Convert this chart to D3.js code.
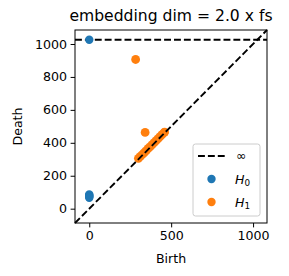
<!DOCTYPE html>
<html>
<head>
<meta charset="utf-8">
<script src="https://cdn.jsdelivr.net/npm/d3@7"></script>
<style>
  body { margin: 0; background: #fff; }
  text { font-family: "DejaVu Sans", sans-serif; }
</style>
</head>
<body>
<script>
// chart values
var title = "embedding dim = 2.0 x fs";
var infDeath = 1026;
var h0Births = [0, 0, 0, 0, 0, 0];
var h0Deaths = [1026, 86, 81, 76, 71, 66];
var h1Births = [283, 341, 300, 312, 324, 336, 348, 360, 372, 384, 396, 408, 420, 432, 444, 456, 460];
var h1Deaths = [906, 463, 306, 318, 329, 341, 353, 366, 377, 389, 401, 413, 425, 437, 449, 461, 465];
var xTicks = [0, 500, 1000];
var yTicks = [0, 200, 400, 600, 800, 1000];
var lo = -87, hi = 1085;

var w = 289, h = 276;
var padL = 75, padR = 267, padT = 30, padB = 223;
var dash = "6.9,3";

var svg = d3.select("body").append("svg").attr("width", w).attr("height", h);

var x = d3.scaleLinear().domain([lo, hi]).range([padL, padR]);
var y = d3.scaleLinear().domain([lo, hi]).range([padB, padT]);

// infinity line
svg.append("line")
  .attr("x1", x(lo)).attr("y1", y(infDeath)).attr("x2", x(hi)).attr("y2", y(infDeath))
  .attr("stroke", "black").attr("stroke-width", 1.9).attr("stroke-dasharray", dash);

var h0 = h0Births.map(function(b, i){ return [b, h0Deaths[i]]; });
var h1 = h1Births.map(function(b, i){ return [b, h1Deaths[i]]; });

svg.selectAll("circle.h0").data(h0).enter().append("circle")
  .attr("class", "h0")
  .attr("cx", function(d){ return x(d[0]); })
  .attr("cy", function(d){ return y(d[1]); })
  .attr("r", 4.2).attr("fill", "#1f77b4");
svg.selectAll("circle.h1").data(h1).enter().append("circle")
  .attr("class", "h1")
  .attr("cx", function(d){ return x(d[0]); })
  .attr("cy", function(d){ return y(d[1]); })
  .attr("r", 4.4).attr("fill", "#ff7f0e");

// diagonal on top of points
svg.append("line")
  .attr("x1", x(lo)).attr("y1", y(lo)).attr("x2", x(hi)).attr("y2", y(hi))
  .attr("stroke", "black").attr("stroke-width", 1.9).attr("stroke-dasharray", dash);

// axes
var xAxis = svg.append("g").attr("transform", "translate(0," + padB + ")")
  .call(d3.axisBottom(x).tickValues(xTicks).tickFormat(d3.format("d")).tickSize(4.4).tickPadding(3.5));
var yAxis = svg.append("g").attr("transform", "translate(" + padL + ",0)")
  .call(d3.axisLeft(y).tickValues(yTicks).tickFormat(d3.format("d")).tickSize(4.4).tickPadding(3.5));
[xAxis, yAxis].forEach(function(g){
  g.select(".domain").remove();
  g.selectAll("text").attr("font-size", 12.6).attr("fill", "black").attr("font-family", "DejaVu Sans");
  g.selectAll("line").attr("stroke", "black").attr("stroke-width", 1);
});

svg.append("rect")
  .attr("x", padL).attr("y", padT).attr("width", padR - padL).attr("height", padB - padT)
  .attr("fill", "none").attr("stroke", "black").attr("stroke-width", 1);

// labels
svg.append("text").attr("x", (padL + padR) / 2).attr("y", 21)
  .attr("text-anchor", "middle").attr("font-size", 15.6).text(title);
svg.append("text").attr("x", (padL + padR) / 2).attr("y", 263)
  .attr("text-anchor", "middle").attr("font-size", 12.6).text("Birth");
svg.append("text").attr("transform", "translate(21.5," + ((padT + padB) / 2) + ") rotate(-90)")
  .attr("text-anchor", "middle").attr("font-size", 12.6).text("Death");

// legend
var lg = svg.append("g");
lg.append("rect").attr("x", 193).attr("y", 144).attr("width", 67).attr("height", 72)
  .attr("rx", 2.5).attr("fill", "white").attr("fill-opacity", 0.8)
  .attr("stroke", "#cccccc").attr("stroke-width", 1);
lg.append("line").attr("x1", 198).attr("x2", 225).attr("y1", 156).attr("y2", 156)
  .attr("stroke", "black").attr("stroke-width", 1.9).attr("stroke-dasharray", dash);
lg.append("text").attr("x", 236).attr("y", 160).attr("font-size", 12.6).text("\u221e");
lg.append("circle").attr("cx", 211.5).attr("cy", 179).attr("r", 4.2).attr("fill", "#1f77b4");
lg.append("circle").attr("cx", 211.5).attr("cy", 202).attr("r", 4.2).attr("fill", "#ff7f0e");
var t0 = lg.append("text").attr("x", 235).attr("y", 184).attr("font-size", 12.6);
t0.append("tspan").attr("font-style", "italic").text("H");
t0.append("tspan").attr("font-size", 8.8).attr("dy", 2).text("0");
var t1 = lg.append("text").attr("x", 235).attr("y", 207).attr("font-size", 12.6);
t1.append("tspan").attr("font-style", "italic").text("H");
t1.append("tspan").attr("font-size", 8.8).attr("dy", 2).text("1");
</script>
</body>
</html>
